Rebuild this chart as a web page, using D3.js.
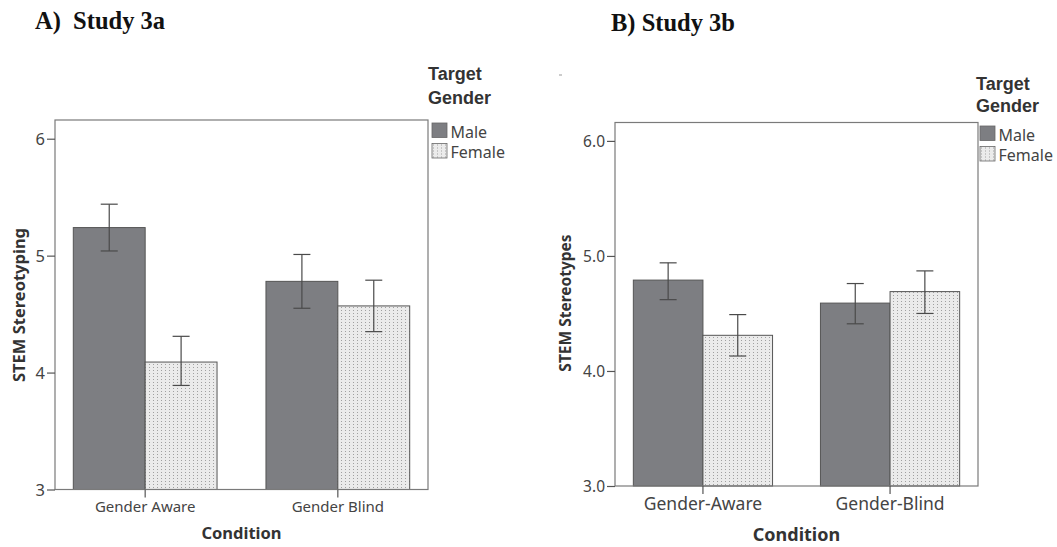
<!DOCTYPE html>
<html>
<head>
<meta charset="utf-8">
<script src="https://cdn.jsdelivr.net/npm/d3@7"></script>
<style>
  body { margin: 0; background: #fff; }
  svg { display: block; }
</style>
</head>
<body>
<div class="canvas"></div>
<script>
var width = 1057, height = 547;

// legend / groups
var genders = ["Male", "Female"];

// Study 3a
var conditionsA = ["Gender Aware", "Gender Blind"];
var maleMeanA = [5.24, 4.78];
var maleLowA = [5.04, 4.55];
var maleHighA = [5.44, 5.01];
var femaleMeanA = [4.09, 4.57];
var femaleLowA = [3.89, 4.35];
var femaleHighA = [4.31, 4.79];
var yTicksA = [3, 4, 5, 6];

// Study 3b
var conditionsB = ["Gender-Aware", "Gender-Blind"];
var maleMeanB = [4.79, 4.59];
var maleLowB = [4.62, 4.41];
var maleHighB = [4.94, 4.76];
var femaleMeanB = [4.31, 4.69];
var femaleLowB = [4.13, 4.50];
var femaleHighB = [4.49, 4.87];
var yTicksB = [3, 4, 5, 6];

var svg = d3.select(".canvas").append("svg")
    .attr("width", width)
    .attr("height", height);

var defs = svg.append("defs");
var pat = defs.append("pattern")
    .attr("id", "dots")
    .attr("patternUnits", "userSpaceOnUse")
    .attr("width", 4)
    .attr("height", 3);
pat.append("rect").attr("width", 4).attr("height", 3).attr("fill", "#ebebeb");
pat.append("rect").attr("x", 1).attr("y", 1).attr("width", 1).attr("height", 1).attr("fill", "#a0a0a0");

var fills = { Male: "#7d7e82", Female: "url(#dots)" };

function drawPanel(p) {
	var g = svg.append("g");

	var y = d3.scaleLinear().domain([3, 6.16]).range([p.bottom, p.top]);

	var x0 = d3.scaleBand().domain(p.conditions)
		.range([p.left, p.right])
		.paddingInner(p.padIn)
		.paddingOuter(p.padOut);
	var x1 = d3.scaleBand().domain(genders).range([0, x0.bandwidth()]);

	var rows = [];
	p.conditions.forEach(function(c, i) {
		rows.push({ cond: c, gender: "Male", mean: p.maleMean[i], lo: p.maleLow[i], hi: p.maleHigh[i] });
		rows.push({ cond: c, gender: "Female", mean: p.femaleMean[i], lo: p.femaleLow[i], hi: p.femaleHigh[i] });
	});

	g.selectAll(".bar").data(rows)
	  .enter().append("rect")
		.attr("class", "bar")
		.attr("x", function(d) { return x0(d.cond) + x1(d.gender); })
		.attr("y", function(d) { return y(d.mean); })
		.attr("width", x1.bandwidth())
		.attr("height", function(d) { return y(3) - y(d.mean); })
		.attr("fill", function(d) { return fills[d.gender]; })
		.attr("stroke", "#555")
		.attr("stroke-width", 1);

	// error bars
	var eb = g.selectAll(".err").data(rows)
	  .enter().append("g")
		.attr("class", "err")
		.attr("transform", function(d) { return "translate(" + (x0(d.cond) + x1(d.gender) + x1.bandwidth() / 2) + ",0)"; })
		.attr("stroke", "#4a4a4a")
		.attr("stroke-width", 1.2);
	eb.append("line")
		.attr("y1", function(d) { return y(d.lo); })
		.attr("y2", function(d) { return y(d.hi); });
	eb.append("line")
		.attr("x1", -8.5).attr("x2", 8.5)
		.attr("y1", function(d) { return y(d.hi); })
		.attr("y2", function(d) { return y(d.hi); });
	eb.append("line")
		.attr("x1", -8.5).attr("x2", 8.5)
		.attr("y1", function(d) { return y(d.lo); })
		.attr("y2", function(d) { return y(d.lo); });

	// frame
	g.append("rect")
		.attr("x", p.left)
		.attr("y", p.top)
		.attr("width", p.right - p.left)
		.attr("height", p.bottom - p.top)
		.attr("fill", "none")
		.attr("stroke", "#7a7a7a")
		.attr("stroke-width", 1.2);

	// y axis
	var ya = g.append("g")
		.attr("transform", "translate(" + p.left + ",0)")
		.call(d3.axisLeft(y).tickValues(p.yTicks).tickSize(8).tickPadding(2).tickFormat(d3.format(p.yFmt)));
	ya.select(".domain").remove();
	ya.selectAll("line").attr("stroke", "#555").attr("stroke-width", 1.2);
	ya.selectAll("text")
		.attr("font-family", "'Noto Sans', sans-serif")
		.attr("font-size", p.yTickSize)
		.attr("fill", "#444")
		.attr("dy", "0.36em");

	// x axis: ticks sit between the two bars of each group
	var xa = g.append("g")
		.attr("transform", "translate(0," + p.bottom + ")")
		.call(d3.axisBottom(x0).tickSize(8).tickPadding(p.xPad));
	xa.select(".domain").remove();
	xa.selectAll("line").attr("stroke", "#555").attr("stroke-width", 1.2);
	xa.selectAll("text")
		.attr("font-family", "'Noto Sans', sans-serif")
		.attr("font-size", p.xTickSize)
		.attr("fill", "#444");

	g.append("text")
		.attr("x", (p.left + p.right) / 2)
		.attr("y", p.xTitleY)
		.attr("text-anchor", "middle")
		.attr("font-family", "'Noto Sans', sans-serif")
		.attr("font-weight", "bold")
		.attr("font-size", p.xTitleSize)
		.attr("fill", "#333")
		.text("Condition");

	g.append("text")
		.attr("transform", "translate(" + p.yTitleX + "," + p.yTitleY + ") rotate(-90)")
		.attr("text-anchor", "middle")
		.attr("font-family", "'Noto Sans', sans-serif")
		.attr("font-weight", "bold")
		.attr("font-size", p.yTitleSize)
		.attr("fill", "#333")
		.text(p.yTitle);

	// panel title
	g.append("text")
		.attr("x", p.titleX)
		.attr("y", p.titleY)
		.attr("font-family", "'Liberation Serif', 'Times New Roman', serif")
		.attr("font-weight", "bold")
		.attr("font-size", 24.5)
		.attr("fill", "#111")
		.style("white-space", "pre")
		.text(p.title);

	// legend
	var lg = g.append("g").attr("transform", "translate(" + p.legX + ",0)");
	lg.append("text")
		.attr("x", -4).attr("y", p.legY0)
		.attr("font-family", "'Liberation Sans', Arial, sans-serif")
		.attr("font-weight", "bold")
		.attr("font-size", 18)
		.attr("fill", "#333")
		.text("Target");
	lg.append("text")
		.attr("x", -4).attr("y", p.legY1)
		.attr("font-family", "'Liberation Sans', Arial, sans-serif")
		.attr("font-weight", "bold")
		.attr("font-size", 18)
		.attr("fill", "#333")
		.text("Gender");
	var items = lg.selectAll(".item").data(genders)
	  .enter().append("g")
		.attr("class", "item")
		.attr("transform", function(d, i) { return "translate(0," + (p.legSw + i * 20.5) + ")"; });
	items.append("rect")
		.attr("width", 15).attr("height", 14.5)
		.attr("fill", function(d) { return fills[d]; })
		.attr("stroke", "#666")
		.attr("stroke-width", 0.8);
	items.append("text")
		.attr("x", 18.5).attr("y", 14.5)
		.attr("font-family", "'Noto Sans', sans-serif")
		.attr("font-size", 16)
		.attr("fill", "#444")
		.text(function(d) { return d; });
}

drawPanel({
	title: "A)  Study 3a", titleX: 35, titleY: 28.5,
	conditions: conditionsA,
	maleMean: maleMeanA, maleLow: maleLowA, maleHigh: maleHighA,
	femaleMean: femaleMeanA, femaleLow: femaleLowA, femaleHigh: femaleHighA,
	yTicks: yTicksA, yFmt: "d",
	left: 55, right: 428, top: 120, bottom: 489.5,
	padIn: 0.254, padOut: 0.095,
	yTickSize: 16.5, xTickSize: 15, xPad: 4,
	xTitleY: 539, xTitleSize: 16.5,
	yTitle: "STEM Stereotyping", yTitleX: 25, yTitleY: 305, yTitleSize: 16.5,
	legX: 432, legY0: 80, legY1: 104, legSw: 123
});

drawPanel({
	title: "B) Study 3b", titleX: 611, titleY: 30.5,
	conditions: conditionsB,
	maleMean: maleMeanB, maleLow: maleLowB, maleHigh: maleHighB,
	femaleMean: femaleMeanB, femaleLow: femaleLowB, femaleHigh: femaleHighB,
	yTicks: yTicksB, yFmt: ".1f",
	left: 615, right: 978, top: 122.5, bottom: 486,
	padIn: 0.256, padOut: 0.098,
	yTickSize: 15.5, xTickSize: 17.5, xPad: 4,
	xTitleY: 541, xTitleSize: 18,
	yTitle: "STEM Stereotypes", yTitleX: 571, yTitleY: 303, yTitleSize: 15.5,
	legX: 980, legY0: 90, legY1: 112, legSw: 126
});

// stray mark present in the source figure
svg.append("line")
	.attr("x1", 559).attr("x2", 562)
	.attr("y1", 75).attr("y2", 75)
	.attr("stroke", "#999")
	.attr("stroke-width", 1);
</script>
</body>
</html>
